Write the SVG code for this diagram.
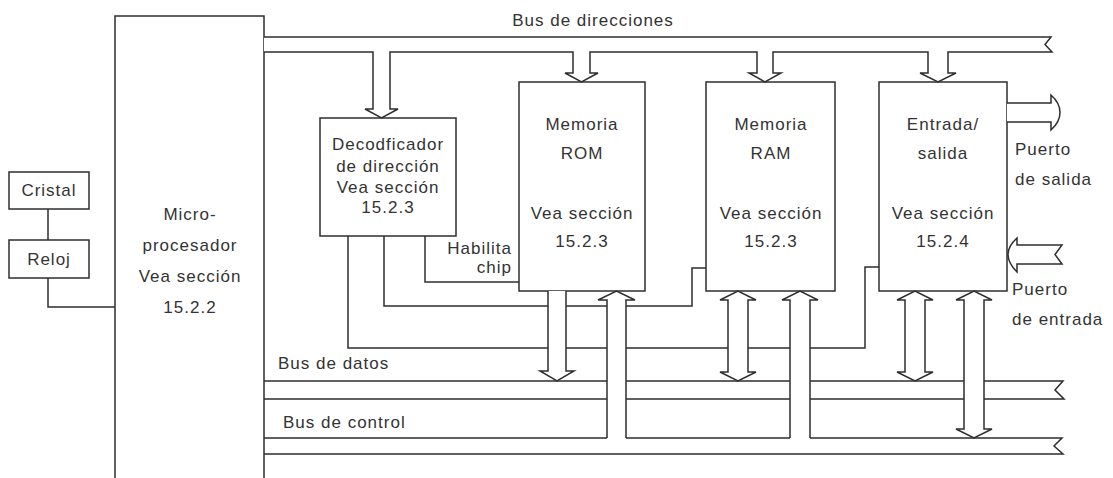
<svg xmlns="http://www.w3.org/2000/svg" width="1113" height="478" viewBox="0 0 1113 478">
<style>
.box{fill:#fff;stroke:#2e2e2e;stroke-width:1.5}
.ln{fill:none;stroke:#2e2e2e;stroke-width:1.5}
.arr{fill:#fff;stroke:#2e2e2e;stroke-width:1.5;stroke-linejoin:miter}
text{font-family:"Liberation Sans",Arial,sans-serif;font-size:17px;fill:#333;letter-spacing:1px}
.c{text-anchor:middle}
.r{text-anchor:end}
</style>
<rect width="1113" height="478" fill="#fff"/>
<g id="cristal"><rect class="box" x="9" y="172" width="80" height="37"/><text class="c" x="49" y="196">Cristal</text></g>
<g id="reloj"><rect class="box" x="9" y="240" width="80" height="38"/><text class="c" x="49" y="265">Reloj</text></g>
<g id="microprocesador"><path class="box" d="M115,480 V16 H264 V480"/>
<text class="c" x="190" y="220">Micro-</text><text class="c" x="190" y="251">procesador</text><text class="c" x="190" y="282">Vea sección</text><text class="c" x="190" y="313">15.2.2</text></g>
<g id="decodificador"><rect class="box" x="320" y="118" width="136" height="118"/>
<text class="c" x="388" y="150">Decodficador</text><text class="c" x="388" y="172">de dirección</text><text class="c" x="388" y="193">Vea sección</text><text class="c" x="388" y="213">15.2.3</text></g>
<g id="rom"><rect class="box" x="519" y="82" width="126" height="209"/>
<text class="c" x="582" y="130">Memoria</text><text class="c" x="582" y="159">ROM</text><text class="c" x="582" y="219">Vea sección</text><text class="c" x="582" y="247">15.2.3</text></g>
<g id="ram"><rect class="box" x="706" y="82" width="129" height="209"/>
<text class="c" x="771" y="130">Memoria</text><text class="c" x="771" y="159">RAM</text><text class="c" x="771" y="219">Vea sección</text><text class="c" x="771" y="247">15.2.3</text></g>
<g id="entrada-salida"><rect class="box" x="879" y="82" width="128" height="209"/>
<text class="c" x="943" y="130">Entrada/</text><text class="c" x="943" y="159">salida</text><text class="c" x="943" y="219">Vea sección</text><text class="c" x="943" y="247">15.2.4</text></g>
<g id="connectors">
<path class="ln" d="M48,209 V240 M48,278 V307 H115"/>
<path class="ln" d="M425,236 V282 H519 M384,236 V306 H692 V268 H706 M348,236 V348 H865 V267 H879"/>
<path class="arr" d="M264,52 H373 V109 H365 L381.5,118 L398,109 H390 V52 H573 V73 H565 L581.5,82 L598,73 H590 V52 H757 V73 H749 L765,82 L781,73 H773 V52 H928 V73 H920 L938,82 L956,73 H948 V52 H1052 L1045,44.5 L1051,37 H264"/>
<path class="ln" d="M264,381 H1063 L1055,390 L1064,399 H264"/>
<path class="ln" d="M264,438 H607 M626,438 H790 M810,438 H1062 L1054,446 L1063,454 H264"/>
<path class="arr" d="M548,291 V371 H540 L557,381 L574,371 H566 V291"/>
<path class="arr" d="M607,438 V300 H598 L616.5,291 L635,300 H626 V438"/>
<path class="arr" d="M728,300 H720 L738,291 L756,300 H748 V372 H756 L738,381 L720,372 H728 Z"/>
<path class="arr" d="M790,438 V300 H782 L800,291 L818,300 H810 V438"/>
<path class="arr" d="M905,300 H897 L915,291 L933,300 H925 V372 H933 L915,381 L897,372 H905 Z"/>
<path class="arr" d="M964,300 H956 L974,291 L992,300 H984 V429 H992 L974,438 L956,429 H964 Z"/>
<path class="arr" d="M1007,103 H1051 V95 Q1060,103 1060,112.5 Q1060,122 1051,130 V122 H1007"/>
<path class="arr" d="M1062,245 H1017 V238 Q1008,246 1008,254.5 Q1008,263 1017,272 V264 H1062 L1055,254.5 Z"/>
</g>
<g id="labels">
<text class="c" x="593" y="26">Bus de direcciones</text>
<text class="r" x="512" y="254">Habilita</text><text class="r" x="512" y="273">chip</text>
<text x="1015" y="155">Puerto</text><text x="1015" y="185">de salida</text>
<text x="1012" y="295">Puerto</text><text x="1012" y="325">de entrada</text>
<text x="278" y="369">Bus de datos</text>
<text x="283" y="428">Bus de control</text>
</g>
</svg>
